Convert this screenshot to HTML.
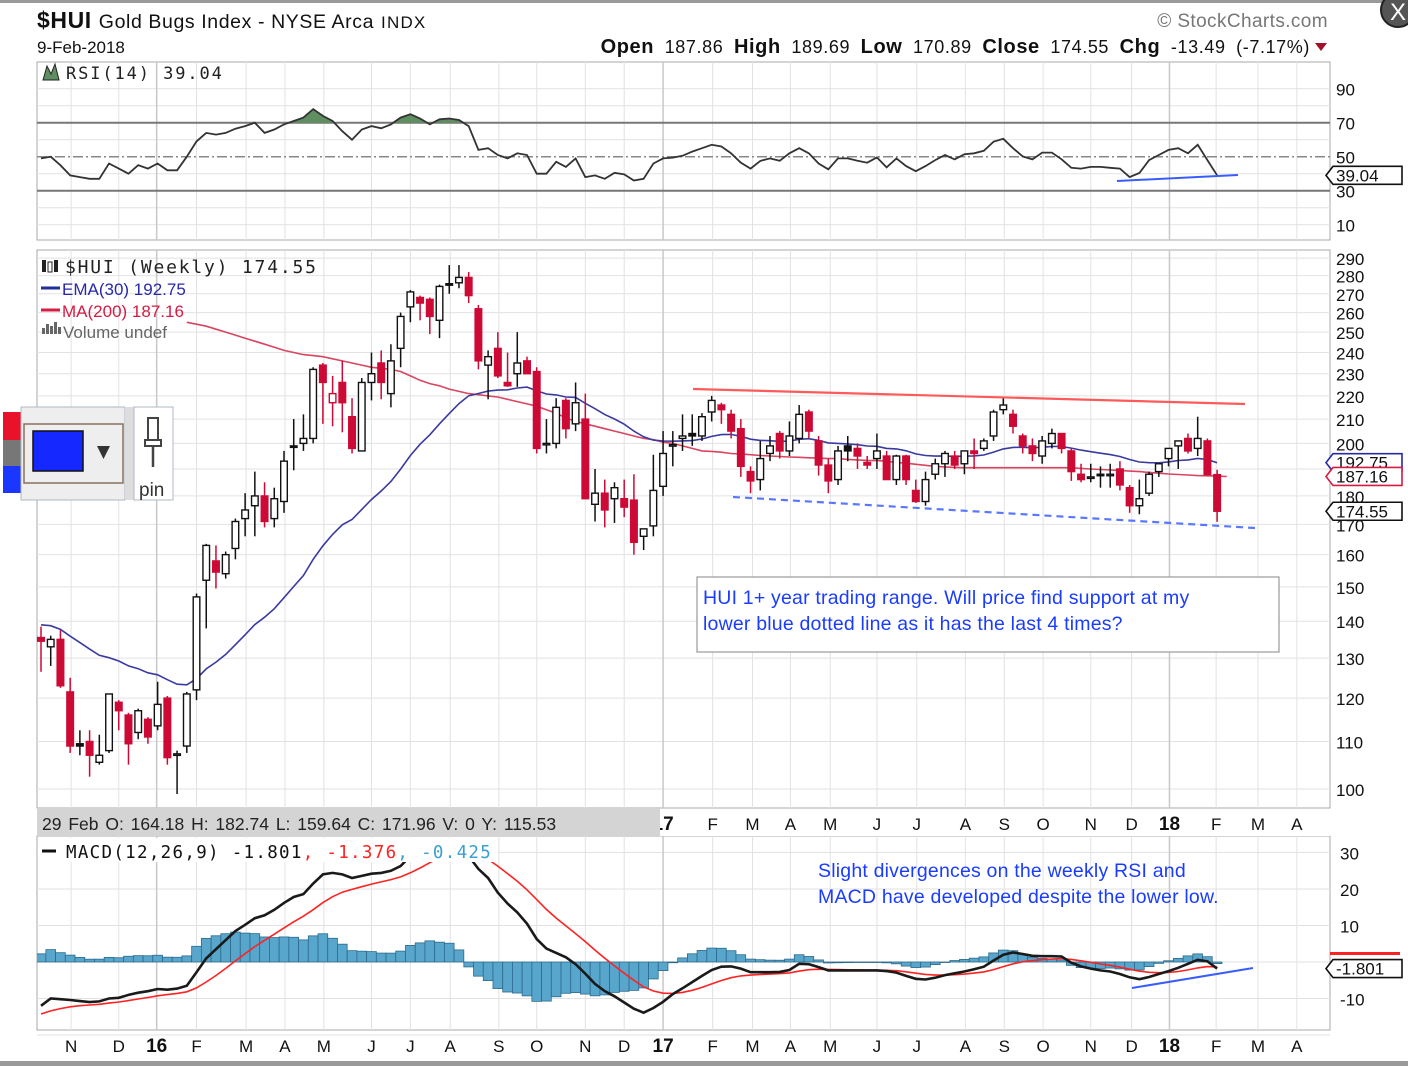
<!DOCTYPE html>
<html><head><meta charset="utf-8"><style>
html,body{margin:0;padding:0;background:#fff;}
svg{display:block;font-family:"Liberation Sans",sans-serif;}
.mono{font-family:"DejaVu Sans Mono","Liberation Mono",monospace;}
</style></head><body>
<svg id="chart" width="1408" height="1066" viewBox="0 0 1408 1066" xmlns="http://www.w3.org/2000/svg">
<rect x="0" y="0" width="1408" height="1066" fill="#fff"/>
<rect x="0" y="0" width="1408" height="3" fill="#9a9a9a"/>
<rect x="0" y="1061" width="1408" height="5" fill="#9a9a9a"/>
<g id="grid"></g>
<g id="rsi"></g>
<g id="price"></g>
<g id="macd"></g>
<g id="axes"></g>
<g>
<text x="37" y="28" font-size="23" font-weight="bold" fill="#111" letter-spacing="0.6">$HUI <tspan font-weight="normal" font-size="19.5">Gold Bugs Index - NYSE Arca</tspan> <tspan font-size="17" font-weight="normal" letter-spacing="1.2">INDX</tspan></text>
<text x="37" y="53" font-size="17" fill="#111">9-Feb-2018</text>
<text x="1328" y="27" font-size="19" fill="#777" text-anchor="end" letter-spacing="0.4">© StockCharts.com</text>
<text x="1310" y="53" font-size="18" fill="#111" text-anchor="end" letter-spacing="0.6" word-spacing="5"><tspan font-weight="bold" font-size="20">Open</tspan> 187.86 <tspan font-weight="bold" font-size="20">High</tspan> 189.69 <tspan font-weight="bold" font-size="20">Low</tspan> 170.89 <tspan font-weight="bold" font-size="20">Close</tspan> 174.55 <tspan font-weight="bold" font-size="20">Chg</tspan> -13.49 (-7.17%)</text>
<path d="M1315 43 L1327 43 L1321 51 Z" fill="#a0102a"/>
<circle cx="1398" cy="10" r="17" fill="#555" stroke="#222" stroke-width="2"/>
<text x="1398" y="20" font-size="24" fill="#fff" text-anchor="middle">X</text>
</g>
<g>
<rect x="3" y="412" width="18" height="28" fill="#e8132a"/>
<rect x="3" y="440" width="18" height="26" fill="#777"/>
<rect x="3" y="466" width="18" height="27" fill="#1a36ff"/>
<rect x="21" y="407" width="104" height="93" fill="#eee" stroke="#b0b8c4"/>
<rect x="24" y="424" width="99" height="59" fill="#eee" stroke="#8a7060" stroke-width="1.5"/>
<rect x="33" y="431" width="50" height="40" fill="#1428ff" stroke="#111" stroke-width="1.5"/>
<path d="M97 446 L110 446 L103.5 459 Z" fill="#333"/>
<rect x="125" y="407" width="9" height="93" fill="#ddd"/>
<rect x="134" y="407" width="39" height="93" fill="#fff" stroke="#b0b8c4"/>
<rect x="148" y="418" width="10" height="22" fill="#fff" stroke="#444" stroke-width="2"/>
<rect x="145" y="440" width="16" height="6" fill="#fff" stroke="#444" stroke-width="2"/>
<line x1="153" y1="446" x2="153" y2="467" stroke="#444" stroke-width="2.5"/>
<text x="139" y="496" font-size="19" fill="#333">pin</text>
</g>
</svg>
<script>
// ---------- DATA ----------
const opens=[135.5,133,135,121.5,109.5,110,105.5,108,119,116,112,115,113.5,120,107,109,122,152,158,154,162,172,176.5,180,172,178,199,200,202,234,217,226,211,197,226,235,221,242,263,268,267,256,275.5,276,279,262,234,242,226,230,236,231,200,200,218,208,210,177,181,179,179,178.5,166,169.5,183.5,199,202,204,203,213,216,212,206,189,186,196,204,197,202,213,201,191.5,186,199,198,192.5,194,195,186,195,182,178,188,192,195,192,197,198,203,214,212,203,199,195,200,204,197,188,187,188,188,190,183,176.5,181,189,194,199,202,198,201,187.86];
const highs=[138.5,136,137.5,125,112.5,112.5,111.5,121,119.5,116.5,117.5,115.5,124,120.5,108,121.5,148,163.5,163,161,172,181,189,185,183,197,210,212,233,235,229,236,219,228,240,241,244,260,272,269,268,275,286,286,282,264,241,250,240,250,238,233,210,219,219,226,221,190,186,185,186,188,167,195.5,205,205,212,212,212.5,220,217,214,210,191,201,203,205,209,216,214,203,194,199,203,200,195,204,197,195.5,195.5,186,189,194,197,197,197,202,202,214,219,214,204,202,203,206,204,198,192,192,191,192,193,184,186,189,191,198,201,204,211,202,189.69];
const lows=[126.5,128,122.5,107.5,107,102.5,105,107.5,112.5,105,110.5,109.5,112.5,105,99,107.5,119.5,138,149.5,152.5,158.5,166,166,169,169,174,189.5,197,200,208,207,204.5,196,197.5,218,218.5,215,233,255,256,249,247,270,273,265,232,218.5,228,224,224,230,196,196,198,202,205,179,171,169,170.5,172.5,160,161.5,166,180,191,197,199,201,209,208,202,187,181,182,193,194,195,200,202,187.5,181,184,193,190,190,190,186,184,184,177.5,176.5,186,187,190,188,190,197,201,212,204,196,193,192,198,196,185.5,185,185,183,183,182,174,173.5,180,187,191,190,196,195,187.5,170.89];
const closes=[134.5,135,123,109,109,107,107,121,117,109.5,117,111,118.5,106.5,107.3,121,147,163,154.5,160,171,175,180,171,179,193,198.5,202,232,226,221,217,198,226,230,226,236,258,271,265,258,274,275,279,269,236,238,229,224.5,235,230,198,200,215,206,217,179,181,175,183,176,164,168.5,182,196,199.5,203,203,211,218,214,205,191,185.5,194,199,197,203,212,205,191.5,185.5,197,197,195,191.5,197,186,195,186,178,186,192,196,191.5,197,196,201,213,216,207,199,196,201,204,198,189,186,187,187.5,188,184,176.5,179,188,192,198,201,197,202,187.86,174.55];
const ma200Start=15;
const ma200=[255,254,253,251.5,250,248.5,247,245.5,244,242.5,241,240,239,238.5,238,237,236,235,234,233,232.5,232,231,229,227,225.5,224.5,223,222,221,220.5,220,219.5,218.5,217.5,216.5,215.5,214,212.5,210.5,209,208,207,206,205,204,203,202,201.5,200.5,200,199,198,197,196.8,196.5,196,195.8,195.5,195.2,195,194.8,194.6,194.5,194.3,194.2,194,194,193.7,193.5,193.3,193.2,193,192.5,192.2,191.8,191.4,191,190.8,190.6,190.5,190.5,190.5,190.5,190.5,190.5,190.5,190.5,190.5,190.5,190.5,190.5,190.2,190,189.8,189.6,189.4,189.2,189,188.7,188.4,188.1,187.9,187.7,187.5,187.4,187.3,187.16];
const emaSeed=139;
const rsiValues=[49,50,45,39,38,37,37,46,43,40,45,43,46,42,42,50,59,64,63,64,66.5,68,70,64,66,69,71,73,78,74,71,65,60,66,68,66.7,69,73,75,72.5,69,72,72.5,71.6,68,54,55,51,49,52,51,40,40,47,44,49,38,39,37,40.5,39.6,36,37,46,49,49.5,50.5,53,55,57,56,52,46.5,43,47.5,49,47.6,52,55,52,46,42.6,49,49,47.6,46.5,49.6,43.7,49,44.5,41.5,44.5,48,51,48.4,51.5,52,53.5,58.8,60.5,55,50.2,48.4,52.4,52.4,48.5,43.5,43,44,44,43.5,43,38,40.4,48,51,54,55,52,57,48,39.04];
const macdValues=[-12,-10,-10.2,-10.4,-10.7,-11,-10.8,-10,-9.8,-9,-8.4,-8,-7.4,-7.6,-7.3,-6.5,-2.8,1,3.5,6,8.5,10.2,12,12.8,14.3,16.2,17.8,18.6,21.5,24,24.4,24,23,23.6,24.2,24.4,25,26.3,29,31,33,34,35,34,29,25.5,23,19,16,13.6,10.5,6.3,3.7,2.5,1.3,-0.6,-3.2,-6,-8,-9.4,-11.1,-12.8,-13.9,-12.6,-10.9,-8.8,-7.2,-5.5,-3.8,-2.2,-1.3,-1.2,-1.8,-2.8,-2.8,-2.8,-2.7,-2.2,-0.5,-0.6,-1.4,-2.3,-2.3,-2.3,-2.3,-2.3,-2.3,-2.5,-2.9,-3.8,-4.6,-4.8,-4.3,-3.6,-3.1,-2.6,-2,-1.3,0.4,2,2.6,2.2,1.7,1.6,1.6,1.5,-0.2,-1.2,-1.8,-2.3,-2.6,-3.3,-4.2,-4.7,-4.1,-3.3,-2.5,-1.6,-0.5,0.6,0.2,-1.801];
const signalSeed=-14.8;
const monthLabels=["N","D","16","F","M","A","M","J","J","A","S","O","N","D","17","F","M","A","M","J","J","A","S","O","N","D","18","F","M","A"];
const monthIdx=[3.1,8.0,11.9,16.0,21.1,25.1,29.1,34.0,38.0,42.1,47.1,51.0,56.0,60.0,64.0,69.1,73.2,77.1,81.2,86.0,90.1,95.1,99.1,103.1,108.0,112.2,116.1,120.9,125.2,129.2];
const priceTicks=[100,110,120,130,140,150,160,170,180,190,200,210,220,230,240,250,260,270,280,290];
const priceTickLabels=["100","110","120","130","140","150","160","170","180","","200","210","220","230","240","250","260","270","280","290"];
const rsiTicks=[90,70,50,30,10];
const macdTicks=[30,20,10,-10];

// ---------- SCALES ----------
const L=37,R=1330;
const xOf=i=>41+9.72*i;
const pY=v=>789-Math.log(v/100)*498.6;
const rY=v=>122.7+(70-v)*1.7;
const mY=v=>962-v*3.65;
const NS="http://www.w3.org/2000/svg";
function mk(tag,attrs,parent){const e=document.createElementNS(NS,tag);for(const k in attrs)e.setAttribute(k,attrs[k]);if(parent)parent.appendChild(e);return e;}
const G=id=>document.getElementById(id);
const grid=G('grid'),rsiG=G('rsi'),priceG=G('price'),macdG=G('macd'),axes=G('axes');
const svg=G('chart');
const defs=mk('defs',{},svg);
const cp1=mk('clipPath',{id:'priceClip'},defs);mk('rect',{x:L,y:252,width:R-L,height:556},cp1);
const cp2=mk('clipPath',{id:'macdClip'},defs);mk('rect',{x:L,y:838,width:R-L,height:192},cp2);
const cp3=mk('clipPath',{id:'obClip'},defs);mk('rect',{x:L,y:62,width:R-L,height:60.7},cp3);
const cp4=mk('clipPath',{id:'rsiClip'},defs);mk('rect',{x:L,y:62,width:R-L,height:178},cp4);

// ---------- GRID ----------
function hline(y,x1,x2,col,w,dash,name){const l=mk('line',{x1:x1,x2:x2,y1:y,y2:y,stroke:col,'stroke-width':w},grid);if(dash)l.setAttribute('stroke-dasharray',dash);return l;}
[[62,240],[250,808],[836,1030]].forEach(([a,b])=>{const r=mk('rect',{x:L,y:a,width:R-L,height:b-a,fill:'#fff',stroke:'#aaa','stroke-width':1},grid);});
for(let v=10;v<=90;v+=10){if(v===70||v===30||v===50)continue;hline(rY(v),L,R,'#e2e2e2',1,null,'rsi-gridline');}
priceTicks.forEach(v=>hline(pY(v),L,R,'#e2e2e2',1,null,'price-gridline'));
for(let v=-20;v<=30;v+=10){hline(mY(v),L,R,'#e2e2e2',1,null,'macd-gridline');}
monthIdx.forEach((m,k)=>{const x=xOf(m);if(x>R)return;const big=/\d/.test(monthLabels[k]);
 [[62,240],[250,808],[836,1030]].forEach(([a,b])=>{const l=mk('line',{x1:x,x2:x,y1:a,y2:b,stroke:big?'#c8c8c8':'#e2e2e2','stroke-width':big?1.5:1},grid);});});
hline(rY(70),L,R,'#777',2,null,'rsi-70-line');
hline(rY(30),L,R,'#777',2,null,'rsi-30-line');
hline(rY(50),L,R,'#888',1.5,'10 3 2 3','rsi-50-line');

// ---------- RSI ----------
let rsiD=rsiValues.map((v,i)=>(i?'L':'M')+xOf(i).toFixed(1)+' '+rY(v).toFixed(1)).join(' ');
const ob=mk('path',{d:rsiD+' L'+xOf(rsiValues.length-1)+' '+rY(70)+' L'+xOf(0)+' '+rY(70)+' Z',fill:'#5f8f60','clip-path':'url(#obClip)'},rsiG);

const rl=mk('path',{d:rsiD,fill:'none',stroke:'#333','stroke-width':1.8,'clip-path':'url(#rsiClip)'},rsiG);

const rsiDiv=mk('line',{x1:1117,y1:181,x2:1238,y2:175,stroke:'#3a5cff','stroke-width':2},rsiG);

const rsiLeg=mk('text',{x:66,y:79,'font-size':17,fill:'#222','class':'mono','letter-spacing':'1.9'},rsiG);rsiLeg.textContent='RSI(14) 39.04';

const rsiIc=mk('path',{d:'M43 80 L47 66 L51 74 L55 64 L59 80 Z',fill:'#5f8f60',stroke:'#222','stroke-width':1},rsiG);


// ---------- PRICE ----------
const pc=mk('g',{'clip-path':'url(#priceClip)'},priceG);
let maD=ma200.map((v,k)=>(k?'L':'M')+xOf(k+ma200Start).toFixed(1)+' '+pY(v).toFixed(1)).join(' ');
const maL=mk('path',{d:maD,fill:'none',stroke:'#d94560','stroke-width':1.6},pc);

const ema=[];let e=emaSeed;const k30=2/31;closes.forEach((c,i)=>{e=i===0?emaSeed:e+(c-e)*k30;ema.push(e);});
const emaL=mk('path',{d:ema.map((v,i)=>(i?'L':'M')+xOf(i).toFixed(1)+' '+pY(v).toFixed(1)).join(' '),fill:'none',stroke:'#3a3aa0','stroke-width':1.6},pc);

closes.forEach((c,i)=>{
 const o=opens[i],h=highs[i],l=lows[i];const prev=i?closes[i-1]:o;
 const col=c<prev?'#cc0a35':'#111';const x=xOf(i);
 const g=mk('g',{},pc);
 
 
 mk('line',{x1:x,x2:x,y1:pY(h),y2:pY(l),stroke:col,'stroke-width':1.5},g);
 const top=pY(Math.max(o,c)),bot=pY(Math.min(o,c));
 const hollow=c>=o;
 mk('rect',{x:x-3.3,y:top,width:6.6,height:Math.max(1.5,bot-top),fill:hollow?'#fff':col,stroke:col,'stroke-width':1.4},g);
});
const res=mk('line',{x1:693,y1:389,x2:1245,y2:404,stroke:'#ff5a5a','stroke-width':2.2},priceG);

const sup=mk('line',{x1:733,y1:497,x2:1255,y2:528,stroke:'#5a78ff','stroke-width':2.2,'stroke-dasharray':'7 5'},priceG);

const ann=mk('g',{},priceG);
mk('rect',{x:697,y:577,width:582,height:75,fill:'#fff',stroke:'#999','stroke-width':1.2},ann);
const t1=mk('text',{x:703,y:604,'font-size':19.5,fill:'#1a3cff','letter-spacing':'0.2'},ann);t1.textContent='HUI 1+ year trading range. Will price find support at my';
const t2=mk('text',{x:703,y:630,'font-size':19.5,fill:'#1a3cff','letter-spacing':'0.2'},ann);t2.textContent='lower blue dotted line as it has the last 4 times?';
const lg=mk('g',{},priceG);
const l1=mk('text',{x:65,y:273,'font-size':18,fill:'#222','class':'mono','letter-spacing':'1.8'},lg);l1.textContent='$HUI (Weekly) 174.55';
mk('rect',{x:42,y:260,width:4,height:12,fill:'#222'},lg);mk('rect',{x:48,y:262,width:4,height:10,fill:'#fff',stroke:'#222'},lg);mk('rect',{x:54,y:260,width:4,height:12,fill:'#222'},lg);
mk('line',{x1:41,x2:60,y1:288,y2:288,stroke:'#222e99','stroke-width':3},lg);
const l2=mk('text',{x:62,y:295,'font-size':17,fill:'#2828a8'},lg);l2.textContent='EMA(30) 192.75';
mk('line',{x1:41,x2:60,y1:310,y2:310,stroke:'#d41c44','stroke-width':3},lg);
const l3=mk('text',{x:62,y:317,'font-size':17,fill:'#d41c44'},lg);l3.textContent='MA(200) 187.16';
[[42,328,6],[46,324,10],[50,326,8],[54,322,12],[58,327,7]].forEach(b=>mk('rect',{x:b[0],y:b[1],width:3,height:b[2],fill:'#666'},lg));
const l4=mk('text',{x:63,y:338,'font-size':17,fill:'#666'},lg);l4.textContent='Volume undef';

// ---------- MACD ----------
const sig=[];let s=signalSeed;macdValues.forEach((v,i)=>{s=i===0?signalSeed+(v-signalSeed)*0.2:s+(v-s)*0.2;sig.push(s);});
const mc=mk('g',{'clip-path':'url(#macdClip)'},macdG);
macdValues.forEach((v,i)=>{const hv=v-sig[i];const y0=mY(0),y1=mY(hv);
 const b=mk('rect',{x:xOf(i)-4.86,y:Math.min(y0,y1),width:9.72,height:Math.max(0.5,Math.abs(y1-y0)),fill:'#58a6cc',stroke:'#2c6a8c','stroke-width':0.8},mc);
 
 
});
const sgl=mk('path',{d:sig.map((v,i)=>(i?'L':'M')+xOf(i).toFixed(1)+' '+mY(v).toFixed(1)).join(' '),fill:'none',stroke:'#ff2222','stroke-width':1.6},mc);

const mcl=mk('path',{d:macdValues.map((v,i)=>(i?'L':'M')+xOf(i).toFixed(1)+' '+mY(v).toFixed(1)).join(' '),fill:'none',stroke:'#1a1a1a','stroke-width':2.6},mc);

const mdiv=mk('line',{x1:1132,y1:988,x2:1253,y2:968,stroke:'#3a5cff','stroke-width':2},macdG);

const mlg=mk('g',{},macdG);
mk('rect',{x:38,y:838,width:460,height:24,fill:'#fff'},mlg);
mk('line',{x1:42,x2:56,y1:851,y2:851,stroke:'#111','stroke-width':3},mlg);
const mt=mk('text',{x:66,y:858,'font-size':17.5,fill:'#111','class':'mono','letter-spacing':'1.3'},mlg);
mt.innerHTML='MACD(12,26,9) -1.801<tspan fill="#ff2222">, -1.376</tspan><tspan fill="#3aa0d0">, -0.425</tspan>';
const n1=mk('text',{x:818,y:877,'font-size':19.5,fill:'#1a3cff','letter-spacing':'0.2'},macdG);n1.textContent='Slight divergences on the weekly RSI and';

const n2=mk('text',{x:818,y:903,'font-size':19.5,fill:'#1a3cff','letter-spacing':'0.2'},macdG);n2.textContent='MACD have developed despite the lower low.';


// ---------- AXES ----------
function txt(x,y,s,size,anchor,col,weight,name){const t=mk('text',{x:x,y:y,'font-size':size,'text-anchor':anchor||'start',fill:col||'#111'},axes);if(weight)t.setAttribute('font-weight',weight);t.textContent=s;return t;}
rsiTicks.forEach(v=>txt(1336,rY(v)+7,String(v),17,'start','#111',null,'rsi-tick-label'));
priceTicks.forEach((v,k)=>{if(priceTickLabels[k])txt(1336,pY(v)+7,priceTickLabels[k],17,'start','#111',null,'price-tick-label');});
macdTicks.forEach(v=>txt(1340,mY(v)+7,String(v),17,'start','#111',null,'macd-tick-label'));
const dateBar=mk('rect',{x:L,y:809,width:R-L,height:27,fill:'#fff'},axes);

monthIdx.forEach((m,k)=>{const x=xOf(m);if(x>R-10)return;const big=/\d/.test(monthLabels[k]);
 txt(x,830,monthLabels[k],big?19:17,'middle','#111',big?'bold':null,'month-label-top');
 txt(x,1052,monthLabels[k],big?19:17,'middle','#111',big?'bold':null,'month-label-bottom');});
const info=mk('rect',{x:L,y:809,width:623,height:27,fill:'#d4d4d4'},axes);

const it=txt(42,830,'29 Feb O: 164.18   H: 182.74   L: 159.64   C: 171.96   V: 0   Y: 115.53',17.5,'start','#222',null,'crosshair-info-text');
it.setAttribute('xml:space','preserve');it.setAttribute('word-spacing','2');
function tag(y,label,col,name){const g=mk('g',{},axes);
 mk('path',{d:`M1326 ${y} L1333 ${y-9} L1402 ${y-9} L1402 ${y+9} L1333 ${y+9} Z`,fill:'#fff',stroke:col,'stroke-width':1.6},g);
 const t=mk('text',{x:1336,y:y+6,'font-size':17,fill:'#111'},g);t.textContent=label;}
tag(pY(ema[ema.length-1]),'192.75','#2828a8','ema-value-tag');
tag(pY(ma200[ma200.length-1]),'187.16','#d41c44','ma-value-tag');
tag(pY(closes[closes.length-1]),'174.55','#111','close-value-tag');
tag(rY(rsiValues[rsiValues.length-1]),'39.04','#111','rsi-value-tag');
tag(mY(macdValues[macdValues.length-1]),'-1.801','#111','macd-value-tag');
mk('rect',{x:1330,y:952,width:70,height:3,fill:'#ff2222'},axes);
</script>
</body></html>
